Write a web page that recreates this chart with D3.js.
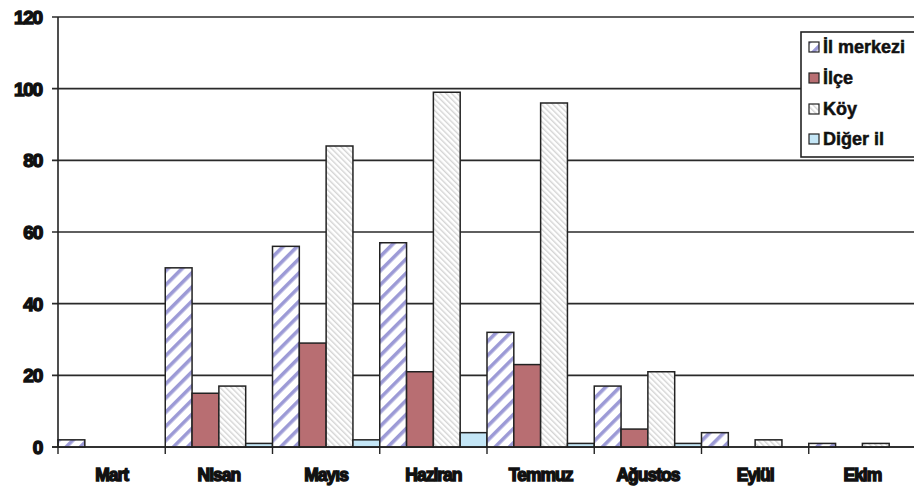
<!DOCTYPE html>
<html>
<head>
<meta charset="utf-8">
<script src="https://cdn.jsdelivr.net/npm/d3@7"></script>
<style>
  html, body { margin: 0; padding: 0; background: #fff; }
  svg { display: block; }
  text { font-family: "Liberation Sans", Arial, sans-serif; font-weight: bold; fill: #111; }
</style>
</head>
<body>
<svg id="chart" width="914" height="489"></svg>
<script>
// Monthly counts by place of residence
const months = ["Mart", "Nisan", "Mayıs", "Haziran", "Temmuz", "Ağustos", "Eylül", "Ekim"];
const seriesNames = ["İl merkezi", "İlçe", "Köy", "Diğer il"];
const ilMerkezi = [2, 50, 56, 57, 32, 17, 4, 1];
const ilce      = [0, 15, 29, 21, 23, 5, 0, 0];
const koy       = [0, 17, 84, 99, 96, 21, 2, 1];
const digerIl   = [0, 1, 2, 4, 1, 1, 0, 0];
const yTicks = [0, 20, 40, 60, 80, 100, 120];

const seriesValues = [ilMerkezi, ilce, koy, digerIl];
const fills = ["url(#stripeBlue)", "#b86e72", "url(#stripeGray)", "#c4e6f6"];

const svg = d3.select("#chart");
const margin = { left: 58, right: -2, top: 17, bottom: 42 };
const W = 914, H = 489;

const defs = svg.append("defs");
// Diagonal blue stripes "/"
const p1 = defs.append("pattern").attr("id", "stripeBlue").attr("patternUnits", "userSpaceOnUse")
  .attr("width", 10).attr("height", 10).attr("patternTransform", "rotate(45)");
p1.append("rect").attr("width", 10).attr("height", 10).attr("fill", "#fff");
p1.append("rect").attr("x", 0).attr("width", 3.6).attr("height", 10).attr("fill", "#9c9ad6");
// Fine gray stripes "\"
const p2 = defs.append("pattern").attr("id", "stripeGray").attr("patternUnits", "userSpaceOnUse")
  .attr("width", 4).attr("height", 4).attr("patternTransform", "rotate(-45)");
p2.append("rect").attr("width", 4).attr("height", 4).attr("fill", "#fff");
p2.append("rect").attr("width", 1.4).attr("height", 4).attr("fill", "#d4d4d4");

const x = d3.scaleBand().domain(months).range([margin.left, W - margin.right]).padding(0);
const xInner = d3.scaleBand().domain(seriesNames).range([0, x.bandwidth()]).padding(0);
const y = d3.scaleLinear().domain([0, 120]).range([H - margin.bottom, margin.top]);

// Horizontal gridlines with left ticks
svg.append("g").selectAll("line").data(yTicks).join("line")
  .attr("x1", margin.left - 6).attr("x2", W)
  .attr("y1", d => y(d)).attr("y2", d => y(d))
  .attr("stroke", "#2a2a2a").attr("stroke-width", 1.6);

// Y tick labels
svg.append("g").selectAll("text").data(yTicks).join("text")
  .attr("x", 42).attr("y", d => y(d)).attr("dy", "0.36em")
  .attr("text-anchor", "end").attr("font-size", 19)
  .attr("letter-spacing", -1.2)
  .attr("stroke", "#111").attr("stroke-width", 1.4)
  .text(d => d);

// Bars
const groups = svg.append("g").selectAll("g").data(months).join("g")
  .attr("transform", d => `translate(${x(d)},0)`);
groups.selectAll("rect").data((m, i) => seriesNames.map((s, k) => ({ s, k, v: seriesValues[k][i] })))
  .join("rect")
  .filter(d => d.v > 0)
  .attr("x", d => xInner(d.s))
  .attr("width", xInner.bandwidth())
  .attr("y", d => y(d.v))
  .attr("height", d => y(0) - y(d.v))
  .attr("fill", d => fills[d.k])
  .attr("stroke", "#222").attr("stroke-width", 1.5);

// Axis lines
svg.append("line").attr("x1", margin.left).attr("x2", margin.left)
  .attr("y1", y(120)).attr("y2", y(0)).attr("stroke", "#222").attr("stroke-width", 1.6);
svg.append("line").attr("x1", margin.left - 6).attr("x2", W)
  .attr("y1", y(0)).attr("y2", y(0)).attr("stroke", "#222").attr("stroke-width", 1.6);

// Category boundary ticks
svg.append("g").selectAll("line").data(months).join("line")
  .attr("x1", d => x(d)).attr("x2", d => x(d))
  .attr("y1", y(0)).attr("y2", y(0) + 7)
  .attr("stroke", "#222").attr("stroke-width", 1.4);

// X labels
svg.append("g").selectAll("text").data(months).join("text")
  .attr("x", d => x(d) + x.bandwidth() / 2).attr("y", 481)
  .attr("text-anchor", "middle").attr("font-size", 17.5)
  .attr("letter-spacing", -1)
  .attr("stroke", "#111").attr("stroke-width", 1.4)
  .text(d => d);

// Legend
const lg = svg.append("g");
lg.append("rect").attr("x", 801).attr("y", 32).attr("width", 125).attr("height", 125)
  .attr("fill", "#fff").attr("stroke", "#222").attr("stroke-width", 1.6);
const rowY = [47, 78, 109, 139];
seriesNames.forEach((s, k) => {
  lg.append("rect").attr("x", 809).attr("y", rowY[k] - 5).attr("width", 10).attr("height", 10)
    .attr("fill", fills[k])
    .attr("stroke", "#222").attr("stroke-width", 1.2);
  lg.append("text").attr("x", 823).attr("y", rowY[k]).attr("dy", "0.36em")
    .attr("font-size", 18).attr("stroke", "#111").attr("stroke-width", 0.5)
    .text(s);
});
</script>
</body>
</html>
